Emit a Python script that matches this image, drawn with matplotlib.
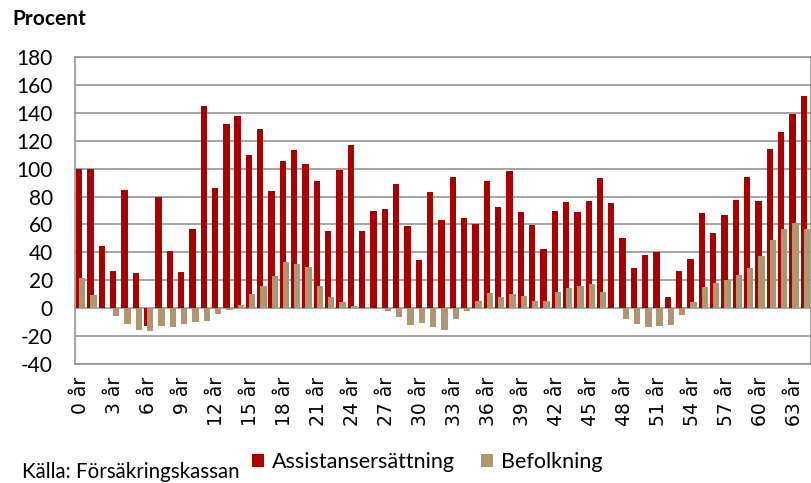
import matplotlib
matplotlib.use("Agg")
import matplotlib.pyplot as plt
from matplotlib.patches import Patch
import numpy as np

ages = list(range(65))
tick_labels = [f"{a} år" for a in ages]

assistans = [100, 100, 44.3, 26.4, 85, 25, -12.9, 79.8, 41, 25.7,
             56.7, 145, 86, 132, 137.6, 110, 128.3, 83.8, 105.2, 113.3,
             103, 91.2, 55.2, 99, 116.7, 55.5, 70, 71.4, 89.3, 58.6,
             34.8, 83.3, 63.3, 94, 64.8, 60.2, 91.4, 72.4, 98.6, 69,
             59.3, 42.6, 69.8, 76, 68.6, 76.9, 93.6, 75.2, 50.2, 29,
             38.1, 40.2, 8.3, 26.9, 35, 68.3, 53.6, 66.7, 77.4, 94,
             77.1, 114, 126.2, 139.5, 151.9]

befolkning = [21.7, 9.5, 0.3, -5.7, -11, -15.7, -16.4, -12.9, -13.3, -11.4,
              -10, -9.3, -4.3, -1.2, 2.6, 10.2, 15.7, 23, 32.9, 31.9,
              29.3, 16.2, 8.3, 4.5, 1.9, 0.3, -0.5, -1.7, -6.2, -11.9,
              -10.5, -13.3, -15.7, -8.1, -2.1, 4.8, 11.2, 8.3, 10.2, 8.8,
              5.5, 5.2, 11.9, 14.5, 16, 17.4, 11.9, 0.2, -7.6, -11.4,
              -13.8, -12.6, -12.1, -5.2, 4.3, 15.2, 18.3, 20.2, 24, 28.6,
              37.6, 48.6, 57.1, 61.2, 56.9]

series_names = ["Assistansersättning", "Befolkning"]
yticks = list(range(-40, 181, 20))

RED = "#AA0000"
TAN = "#B09670"
GRID = "#8C8C8C"

W, H = 811, 483
fig = plt.figure(figsize=(W / 100, H / 100), dpi=100)
ax = fig.add_axes([75 / W, 1 - 364 / H, 1 - 75 / W, (364 - 57) / H])

x = np.arange(len(ages))
bw = 0.56
ax.bar(x - 0.135, assistans, width=bw, color=RED, zorder=2, linewidth=0)
ax.bar(x + 0.135, befolkning, width=bw, color=TAN, zorder=3, linewidth=0)

ax.set_xlim(-0.5, len(ages) - 0.5)
ax.set_ylim(-40, 180)
ax.set_yticks(yticks)
ax.set_yticklabels([str(v) for v in yticks], family="Lato", fontsize=15)
ax.tick_params(axis="y", length=0, pad=16)
ax.yaxis.grid(True, color=GRID, linewidth=1.1, zorder=0)
ax.set_axisbelow(True)

ax.set_xticks(x[::3])
ax.set_xticklabels(tick_labels[::3], rotation=90, family="DejaVu Sans",
                   fontsize=13.5, ha="center", va="top")
ax.tick_params(axis="x", length=0, pad=9)

for s in ax.spines.values():
    s.set_color(GRID)
    s.set_linewidth(1.1)

fig.text(12 / W, 1 - 25 / H, "Procent", family="Lato", weight="bold",
         fontsize=15, va="baseline", ha="left")
fig.text(22 / W, 1 - 478 / H, "Källa: Försäkringskassan", family="Lato",
         fontsize=14.8, va="baseline", ha="left")

handles = [Patch(facecolor=RED, edgecolor="none"),
           Patch(facecolor=TAN, edgecolor="none")]
fig.legend(handles, series_names, loc="center left",
           bbox_to_anchor=(252 / W, 1 - 462 / H), ncol=2, frameon=False,
           prop={"family": "Lato", "size": 15.5}, handlelength=0.56,
           handleheight=0.56, handletextpad=0.38, columnspacing=1.2,
           borderaxespad=0, borderpad=0)

fig.savefig("out.png", dpi=100)
